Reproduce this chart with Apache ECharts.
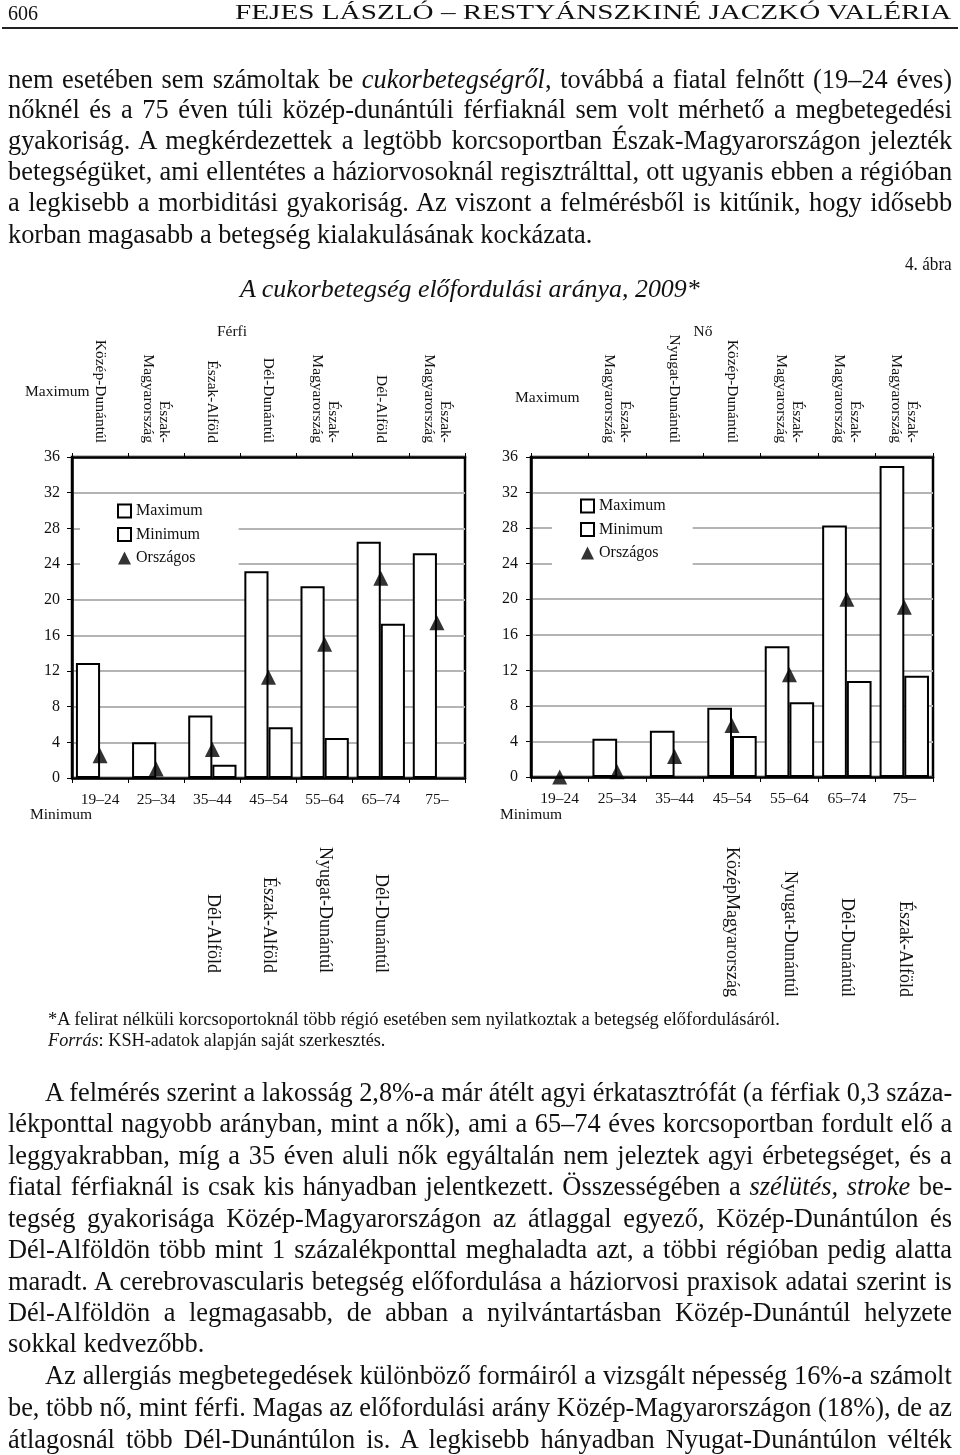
<!DOCTYPE html>
<html><head><meta charset="utf-8">
<script src="https://cdn.jsdelivr.net/npm/echarts@6/dist/echarts.min.js"></script>
<style>
html,body{margin:0;padding:0;background:#fff;}
#page{position:relative;width:960px;height:1455px;overflow:hidden;font-family:'Liberation Serif','Times New Roman',serif;color:#111;background:#fff;}
#chart{position:absolute;left:0;top:0;width:960px;height:1455px;}
.ln{position:absolute;white-space:nowrap;transform-origin:0 50%;}
.rule{position:absolute;left:2px;top:27px;width:956px;height:2px;background:#222;}
</style></head>
<body><div id="page"><div id="chart"></div><div class="rule"></div></div>
<script>
// ---------- chart data ----------
const ageGroups = ['19–24', '25–34', '35–44', '45–54', '55–64', '65–74', '75–'];
const yTicks = [0, 36, 4]; // min, max, interval
const menMax = [12.9, 4.0, 7.0, 23.2, 21.5, 26.5, 25.2];
const menMin = [null, null, 1.5, 5.7, 4.5, 17.3, null];
const menNational = [2.5, 1.0, 3.2, 11.3, 15.0, 22.4, 17.4];
const NE = 'Észak-\nMagyarország';
const menMaxRegion = ['Közép-Dunántúl', NE, 'Észak-Alföld', 'Dél-Dunántúl', NE, 'Dél-Alföld', NE];
const menMinRegion = ['', '', 'Dél-Alföld', 'Észak-Alföld', 'Nyugat-Dunántúl', 'Dél-Dunántúl', ''];
const womenMax = [null, 4.3, 5.2, 7.8, 14.7, 28.3, 35.0];
const womenMin = [null, null, null, 4.6, 8.4, 10.8, 11.4];
const womenNational = [0, 0.6, 2.3, 5.8, 11.5, 20.0, 19.1];
const womenMaxRegion = ['', NE, 'Nyugat-Dunántúl', 'Közép-Dunántúl', NE, NE, NE];
const womenMinRegion = ['', '', '', 'KözépMagyarország', 'Nyugat-Dunántúl', 'Dél-Dunántúl', 'Észak-Alföld'];
const seriesNames = ['Maximum', 'Minimum', 'Országos'];

// ---------- page text ----------
const headerLeft = '606';
const headerRight = 'FEJES LÁSZLÓ – RESTYÁNSZKINÉ JACZKÓ VALÉRIA';
const para1 = [
  'nem esetében sem számoltak be <i>cukorbetegségről</i>, továbbá a fiatal felnőtt (19–24 éves)',
  'nőknél és a 75 éven túli közép-dunántúli férfiaknál sem volt mérhető a megbetegedési',
  'gyakoriság. A megkérdezettek a legtöbb korcsoportban Észak-Magyarországon jelezték',
  'betegségüket, ami ellentétes a háziorvosoknál regisztrálttal, ott ugyanis ebben a régióban',
  'a legkisebb a morbiditási gyakoriság. Az viszont a felmérésből is kitűnik, hogy idősebb',
  'korban magasabb a betegség kialakulásának kockázata.'
];
const para2 = [
  'A felmérés szerint a lakosság 2,8%-a már átélt agyi érkatasztrófát (a férfiak 0,3 száza-',
  'lékponttal nagyobb arányban, mint a nők), ami a 65–74 éves korcsoportban fordult elő a',
  'leggyakrabban, míg a 35 éven aluli nők egyáltalán nem jeleztek agyi érbetegséget, és a',
  'fiatal férfiaknál is csak kis hányadban jelentkezett. Összességében a <i>szélütés, stroke</i> be-',
  'tegség gyakorisága Közép-Magyarországon az átlaggal egyező, Közép-Dunántúlon és',
  'Dél-Alföldön több mint 1 százalékponttal meghaladta azt, a többi régióban pedig alatta',
  'maradt. A cerebrovascularis betegség előfordulása a háziorvosi praxisok adatai szerint is',
  'Dél-Alföldön a legmagasabb, de abban a nyilvántartásban Közép-Dunántúl helyzete',
  'sokkal kedvezőbb.'
];
const para3 = [
  'Az allergiás megbetegedések különböző formáiról a vizsgált népesség 16%-a számolt',
  'be, több nő, mint férfi. Magas az előfordulási arány Közép-Magyarországon (18%), de az',
  'átlagosnál több Dél-Dunántúlon is. A legkisebb hányadban Nyugat-Dunántúlon vélték'
];
const figNo = '4. ábra';
const figTitle = 'A cukorbetegség előfordulási aránya, 2009*';
const note1 = '*A felirat nélküli korcsoportoknál több régió esetében sem nyilatkoztak a betegség előfordulásáról.';
const note2 = '<i>Forrás</i>: KSH-adatok alapján saját szerkesztés.';

const page = document.getElementById('page');
function mk(html, x, cy, fs) {
  const d = document.createElement('div');
  d.className = 'ln';
  d.style.fontSize = fs + 'px';
  d.style.lineHeight = Math.round(fs * 1.2) + 'px';
  d.innerHTML = html;
  d.style.left = x + 'px';
  d.style.top = (cy - fs * 0.66) + 'px';
  page.appendChild(d);
  return d;
}
function fit(d, w) { d.style.transform = 'scaleX(' + (w / d.offsetWidth) + ')'; }
function just(d, w, c) {
  const nat = d.offsetWidth;
  const n = (d.textContent.match(/ /g) || []).length;
  if (nat * c < w && n) {
    d.style.wordSpacing = ((w / c - nat) / n) + 'px';
    d.style.transform = 'scaleX(' + c + ')';
  } else {
    d.style.transform = 'scaleX(' + (w / nat) + ')';
  }
}
const BODY = 28;
fit(mk(headerLeft, 8, 14, 20), 30);
fit(mk(headerRight, 235, 14, 21), 717);
// condense factor from the last line of the first paragraph
const lastP1 = mk(para1[5], 8, 235, BODY);
const C = 584 / lastP1.offsetWidth;
lastP1.style.transform = 'scaleX(' + C + ')';
const p1y = [80, 110, 141, 172, 203];
for (let i = 0; i < 5; i++) just(mk(para1[i], 8, p1y[i], BODY), 944, C);
fit(mk(figNo, 905, 265, 19), 47);
fit(mk('<i>' + figTitle + '</i>', 240, 290, 25), 460);
fit(mk(note1, 48, 1020, 18), 732);
fit(mk(note2, 48, 1041, 18), 337);
const p2y = [1093, 1124, 1156, 1187, 1219, 1250, 1282, 1313, 1344];
for (let i = 0; i < 9; i++) {
  const x = i === 0 ? 45 : 8;
  const d = mk(para2[i], x, p2y[i], BODY);
  if (i === 8) d.style.transform = 'scaleX(' + C + ')';
  else just(d, 952 - x, C);
}
const p3y = [1376, 1408, 1440];
for (let i = 0; i < 3; i++) {
  const x = i === 0 ? 45 : 8;
  just(mk(para3[i], x, p3y[i], BODY), 952 - x, C);
}

// ---------- chart ----------
const SERIF = "'Liberation Serif', 'Times New Roman', serif";
const INK = '#111';
function gridCfg(left, width, height) {
  return { left: left, top: 457, width: width, height: height, show: true, borderColor: '#000', borderWidth: 2.5,
    backgroundColor: 'transparent', containLabel: false, outerBoundsMode: 'none' };
}
function ageAxis(g) {
  return { type: 'category', gridIndex: g, data: ageGroups, position: 'bottom',
    axisLine: { show: true, lineStyle: { color: '#000', width: 2.5 } },
    axisTick: { show: true, length: 5, lineStyle: { color: '#000', width: 1 } },
    axisLabel: { interval: 0, margin: 14, fontSize: 15.5, fontFamily: SERIF, color: INK },
    splitLine: { show: false } };
}
function topAxis(g, names) {
  return { type: 'category', gridIndex: g, data: names, position: 'top',
    axisLine: { show: true, lineStyle: { color: '#000', width: 2.5 } },
    axisTick: { show: true, length: 4, lineStyle: { color: '#000', width: 1 } },
    axisLabel: { interval: 0, rotate: 90, margin: 14, fontSize: 15.5, lineHeight: 16, fontFamily: SERIF, color: INK },
    splitLine: { show: false } };
}
function lowAxis(g, names, off) {
  return { type: 'category', gridIndex: g, data: names, position: 'top', offset: off,
    axisLine: { show: false }, axisTick: { show: false },
    axisLabel: { interval: 0, rotate: 90, margin: 0, fontSize: 18, fontFamily: SERIF, color: INK },
    splitLine: { show: false } };
}
function valAxis(g, margin) {
  return { type: 'value', gridIndex: g, min: yTicks[0], max: yTicks[1], interval: yTicks[2],
    axisLine: { show: true, lineStyle: { color: '#000', width: 2.5 } },
    axisTick: { show: true, length: 5, lineStyle: { color: '#000', width: 1 } },
    axisLabel: { margin: margin, fontSize: 16, fontFamily: SERIF, color: INK },
    splitLine: { show: true, lineStyle: { color: '#b4b4b4', width: 2 } } };
}
function legendCfg(left, top, pad) {
  return { orient: 'vertical', left: left, top: top, padding: pad, backgroundColor: '#fff',
    itemWidth: 13, itemHeight: 13, itemGap: 7.5, z: 10,
    textStyle: { fontSize: 16, lineHeight: 16, fontFamily: SERIF, color: INK },
    data: [{ name: seriesNames[0], icon: 'rect' }, { name: seriesNames[1], icon: 'rect' }, { name: seriesNames[2] }] };
}
const barStyle = { color: '#fff', borderColor: '#000', borderWidth: 2 };
function barSeries(name, xi, yi, data) {
  return { name: name, type: 'bar', xAxisIndex: xi, yAxisIndex: yi, data: data,
    barGap: '0%', barCategoryGap: '14%', itemStyle: barStyle, emphasis: { disabled: true } };
}
function triSeries(xi, yi, data) {
  return { name: seriesNames[2], type: 'scatter', xAxisIndex: xi, yAxisIndex: yi, data: data,
    symbol: 'triangle', symbolSize: [15, 15], itemStyle: { color: '#000' }, z: 5 };
}
function txt(text, x, y, fs, align) {
  return { type: 'text', x: x, y: y, z: 20,
    style: { text: text, font: fs + 'px ' + SERIF, fill: INK, textAlign: align || 'left', textVerticalAlign: 'middle' } };
}
const option = {
  animation: false,
  backgroundColor: '#fff',
  textStyle: { fontFamily: SERIF },
  grid: [gridCfg(72, 393, 321), gridCfg(531, 402, 320)],
  xAxis: [ageAxis(0), topAxis(0, menMaxRegion), lowAxis(0, menMinRegion, -516),
          ageAxis(1), topAxis(1, womenMaxRegion), lowAxis(1, womenMinRegion, -540)],
  yAxis: [valAxis(0, 12), valAxis(1, 13)],
  legend: [legendCfg(80, 500, [3, 36, 16, 37]), legendCfg(552, 495, [3, 27, 16, 28])],
  graphic: [
    txt('Férfi', 232, 332, 15.5, 'center'),
    txt('Nő', 703, 332, 15.5, 'center'),
    txt('Maximum', 25, 392, 15.5),
    txt('Maximum', 515, 398, 15.5),
    txt('Minimum', 30, 815, 15.5),
    txt('Minimum', 500, 815, 15.5)
  ],
  series: [
    barSeries(seriesNames[0], 0, 0, menMax),
    barSeries(seriesNames[1], 0, 0, menMin),
    triSeries(0, 0, menNational),
    barSeries(seriesNames[0], 3, 1, womenMax),
    barSeries(seriesNames[1], 3, 1, womenMin),
    triSeries(3, 1, womenNational)
  ]
};
const chart = echarts.init(document.getElementById('chart'), null, { renderer: 'canvas' });
chart.setOption(option);
</script>
</body></html>
